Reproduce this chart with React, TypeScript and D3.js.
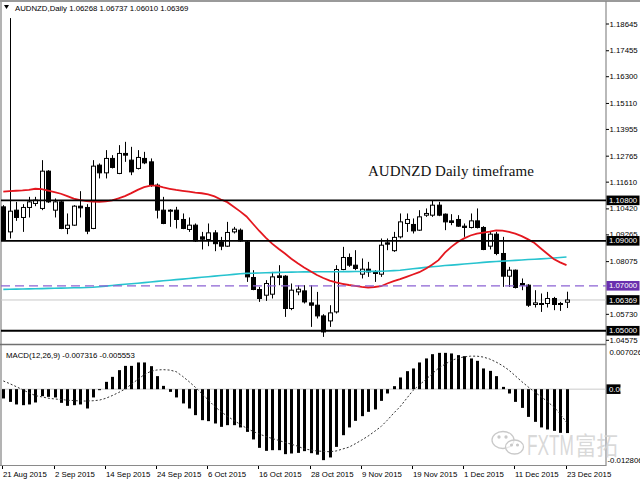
import React from "react";
import * as d3 from "d3";

// ---- Data (AUDNZD Daily, 21 Aug 2015 – 23 Dec 2015) ----
const opens = [
  1.10511, 1.09398, 1.10364, 1.10039, 1.10484, 1.10662, 1.1044, 1.12099, 1.10364, 1.10733,
  1.0955, 1.09696, 1.10542, 1.10484, 1.0955, 1.12366, 1.12024, 1.12665, 1.11997, 1.12887,
  1.12589, 1.1222, 1.12665, 1.12513, 1.11476, 1.10364, 1.10364, 1.10364, 1.0995, 1.09505,
  1.09696, 1.09176, 1.0906, 1.09354, 1.08953, 1.08762, 1.09398, 1.09474, 1.08953, 1.07369,
  1.06835, 1.06581, 1.06626, 1.0744, 1.07427, 1.0599, 1.06728, 1.06773, 1.06239, 1.06136,
  1.0566, 1.05438, 1.05838, 1.07725, 1.08259, 1.07916, 1.07516, 1.07738, 1.07618, 1.07516,
  1.08909, 1.08562, 1.09176, 1.09772, 1.09728, 1.09474, 1.10141, 1.10141, 1.10586, 1.10186,
  1.09888, 1.0995, 1.09652, 1.09594, 1.09888, 1.09594, 1.08762, 1.09296, 1.08437, 1.07427,
  1.07694, 1.07102, 1.07026, 1.06168, 1.06212, 1.06212, 1.06435, 1.06212, 1.06268,
];
const highs = [
  1.10586, 1.18908, 1.10733, 1.10631, 1.10956, 1.10956, 1.12589, 1.12144, 1.10885, 1.10778,
  1.10217, 1.10586, 1.11209, 1.10631, 1.12589, 1.12442, 1.13034, 1.12811, 1.13256, 1.13403,
  1.13181, 1.13034, 1.12958, 1.12665, 1.11552, 1.10956, 1.10408, 1.10511, 1.10217, 1.10039,
  1.09772, 1.09398, 1.09772, 1.09474, 1.09176, 1.09843, 1.09621, 1.0955, 1.08998, 1.07694,
  1.06951, 1.07249, 1.07618, 1.07916, 1.07471, 1.07102, 1.07026, 1.07026, 1.07026, 1.06728,
  1.05736, 1.06136, 1.07916, 1.08731, 1.08437, 1.08584, 1.08215, 1.08063, 1.07694, 1.09105,
  1.09105, 1.09398, 1.10217, 1.10217, 1.09995, 1.10364, 1.1044, 1.10809, 1.10733, 1.10217,
  1.10186, 1.10141, 1.09772, 1.10217, 1.1044, 1.09652, 1.09398, 1.09398, 1.09176, 1.07841,
  1.07725, 1.07325, 1.07071, 1.06804, 1.06657, 1.06728, 1.06506, 1.06283, 1.06737,
];
const lows = [
  1.08998, 1.09105, 1.09888, 1.09398, 1.10039, 1.10542, 1.10364, 1.10689, 1.10039, 1.09518,
  1.09296, 1.09665, 1.10039, 1.09296, 1.09518, 1.11775, 1.11775, 1.1222, 1.11966, 1.12513,
  1.11921, 1.12175, 1.12411, 1.11401, 1.09995, 1.09741, 1.09621, 1.0955, 1.09518, 1.09398,
  1.08953, 1.08615, 1.08762, 1.08539, 1.08584, 1.08731, 1.09327, 1.08953, 1.07173, 1.06804,
  1.06283, 1.06327, 1.06435, 1.07026, 1.05616, 1.05914, 1.06581, 1.06212, 1.05171, 1.05545,
  1.04726, 1.05171, 1.05767, 1.07694, 1.07841, 1.07694, 1.07325, 1.07396, 1.07173, 1.07396,
  1.08584, 1.08508, 1.09105, 1.09398, 1.09327, 1.09443, 1.10066, 1.10066, 1.10097, 1.09474,
  1.09696, 1.09621, 1.09176, 1.0955, 1.0955, 1.08584, 1.08615, 1.08361, 1.06951, 1.06951,
  1.0688, 1.06804, 1.06061, 1.06034, 1.05838, 1.06034, 1.05914, 1.05883, 1.0601,
];
const closes = [
  1.09029, 1.10319, 1.10039, 1.10484, 1.10733, 1.10809, 1.12099, 1.10733, 1.10733, 1.0955,
  1.09696, 1.10542, 1.10466, 1.09429, 1.12322, 1.12024, 1.12665, 1.12264, 1.12887, 1.12811,
  1.12068, 1.12709, 1.12469, 1.11476, 1.10364, 1.09772, 1.10319, 1.0995, 1.0955, 1.09696,
  1.08998, 1.09073, 1.09354, 1.08873, 1.08762, 1.09372, 1.09518, 1.08998, 1.07396, 1.06835,
  1.06435, 1.07102, 1.07396, 1.07369, 1.0599, 1.06804, 1.06848, 1.06283, 1.06136, 1.0566,
  1.04948, 1.05794, 1.07725, 1.08259, 1.07916, 1.0777, 1.07738, 1.07618, 1.07547, 1.08806,
  1.08851, 1.09153, 1.09843, 1.0995, 1.09443, 1.10066, 1.10217, 1.10586, 1.10141, 1.09843,
  1.09817, 1.09652, 1.09594, 1.09888, 1.09594, 1.08615, 1.09296, 1.08437, 1.07427, 1.07694,
  1.06924, 1.07026, 1.06136, 1.06239, 1.06168, 1.06435, 1.06168, 1.06168, 1.06369,
];
const maFast = [
  1.11187, 1.11209, 1.11227, 1.11241, 1.11267, 1.11316, 1.11298, 1.11232, 1.11165, 1.11094,
  1.10987, 1.10876, 1.10809, 1.10764, 1.10747, 1.10733, 1.10756, 1.108, 1.10885, 1.10987,
  1.1112, 1.11267, 1.11387, 1.11454, 1.11454, 1.11374, 1.11316, 1.11263, 1.11223, 1.11187,
  1.11147, 1.11116, 1.11063, 1.10978, 1.1084, 1.1072, 1.1052, 1.10311, 1.10084, 1.09759,
  1.09438, 1.09145, 1.08873, 1.08646, 1.08433, 1.08206, 1.08005, 1.07814, 1.07649, 1.0748,
  1.07347, 1.07231, 1.07147, 1.07089, 1.07035, 1.06995, 1.06955, 1.06924, 1.06946, 1.06981,
  1.07102, 1.07204, 1.07293, 1.074, 1.07502, 1.07605, 1.07761, 1.07934, 1.08139, 1.08473,
  1.08731, 1.08949, 1.09109, 1.09238, 1.09318, 1.09367, 1.09412, 1.09469, 1.09456, 1.09403,
  1.09318, 1.09211, 1.09065, 1.089, 1.0866, 1.08424, 1.08192, 1.08041, 1.07916,
];
const maSlow = [
  1.0684, 1.06844, 1.06853, 1.06857, 1.06862, 1.06871, 1.06875, 1.06884, 1.06888, 1.06897,
  1.06902, 1.06911, 1.06915, 1.06924, 1.06937, 1.0696, 1.06986, 1.07013, 1.0704, 1.07066,
  1.07093, 1.07115, 1.07142, 1.07169, 1.07195, 1.07222, 1.07249, 1.07276, 1.07298, 1.07325,
  1.07351, 1.07378, 1.07405, 1.07431, 1.07458, 1.0748, 1.07507, 1.07534, 1.07552, 1.0756,
  1.07569, 1.07578, 1.07587, 1.07596, 1.076, 1.07609, 1.07614, 1.07618, 1.07618, 1.07623,
  1.07623, 1.07627, 1.07627, 1.07632, 1.07632, 1.07636, 1.07636, 1.07641, 1.07641, 1.07645,
  1.07658, 1.07676, 1.07694, 1.07725, 1.07756, 1.07787, 1.07819, 1.0785, 1.07872, 1.07899,
  1.07921, 1.07943, 1.0797, 1.07992, 1.08014, 1.08041, 1.08063, 1.08081, 1.08099, 1.08112,
  1.0813, 1.08148, 1.08166, 1.08179, 1.08197, 1.08215, 1.08237, 1.08259, 1.08281,
];
const macdMain = [
  -0.00155, -0.00212, -0.00255, -0.00267, -0.00255, -0.00222, -0.00117, -0.00128, -0.00138, -0.00228,
  -0.00278, -0.00267, -0.00255, -0.00322, -0.00138, -0.00017, 0.00122, 0.00205, 0.00317, 0.00388,
  0.00388, 0.00445, 0.00445, 0.00383, 0.00217, 0.00055, -0.00045, -0.00138, -0.00238, -0.00322,
  -0.00433, -0.00517, -0.00533, -0.00572, -0.00628, -0.006, -0.006, -0.00638, -0.00712, -0.00838,
  -0.00978, -0.01028, -0.01017, -0.01017, -0.01083, -0.01072, -0.01062, -0.01033, -0.01067, -0.01092,
  -0.01183, -0.01138, -0.00962, -0.00767, -0.00638, -0.00528, -0.0045, -0.00378, -0.00338, -0.00195,
  -0.00072, 0.0005, 0.00195, 0.003, 0.00345, 0.00445, 0.00512, 0.00583, 0.00605, 0.00605,
  0.00595, 0.00567, 0.0055, 0.00512, 0.00472, 0.00345, 0.00305, 0.00217, 0.00038, -0.00072,
  -0.00212, -0.00312, -0.00462, -0.00545, -0.00638, -0.00672, -0.00695, -0.00728, -0.007316,
];
const macdSignal = [
  0.00137, 0.00092, 0.00043, -0.00008, -0.0006, -0.00107, -0.00128, -0.0015, -0.00163, -0.00173,
  -0.00183, -0.0019, -0.00197, -0.00198, -0.00193, -0.00183, -0.00153, -0.00108, -0.00057, 0.0,
  0.0008, 0.00162, 0.0024, 0.00295, 0.0032, 0.00325, 0.00318, 0.00292, 0.00215, 0.00128,
  0.00032, -0.00072, -0.00177, -0.00285, -0.00375, -0.0045, -0.0052, -0.00585, -0.0065, -0.00703,
  -0.00747, -0.00788, -0.00822, -0.00853, -0.00887, -0.00918, -0.0095, -0.00995, -0.01013, -0.0103,
  -0.01037, -0.01043, -0.0103, -0.00998, -0.00967, -0.0091, -0.00848, -0.00782, -0.00705, -0.00625,
  -0.00518, -0.004, -0.00292, -0.00158, -0.00023, 0.0007, 0.0016, 0.00255, 0.0035, 0.00415,
  0.00477, 0.00515, 0.00538, 0.0055, 0.0055, 0.00535, 0.00502, 0.00452, 0.00392, 0.00317,
  0.00222, 0.00127, 0.00038, -0.00047, -0.00123, -0.00205, -0.00298, -0.00407, -0.005553,
];
const dateLabels = [
  "21 Aug 2015", "2 Sep 2015", "14 Sep 2015", "24 Sep 2015", "6 Oct 2015", "16 Oct 2015",
  "28 Oct 2015", "9 Nov 2015", "19 Nov 2015", "1 Dec 2015", "11 Dec 2015", "23 Dec 2015",
];
const dateIndices = [0, 8, 16, 24, 32, 40, 48, 56, 64, 72, 80, 88];
const priceTicks = [
  1.18645, 1.17455, 1.163, 1.1511, 1.13955, 1.12765, 1.1161, 1.1042, 1.09265, 1.08075,
  1.0573, 1.04575,
];
const solidLevels = [1.108, 1.09, 1.05];
const dashedLevel = 1.07;
const bidPrice = 1.06369;
const priceMin = 1.04575;
const priceMax = 1.18645;
const macdMax = 0.007026;
const macdMin = -0.012806;
const titleText = "AUDNZD,Daily  1.06268 1.06737 1.06010 1.06369";
const macdTitle = "MACD(12,26,9) -0.007316 -0.005553";
const noteText = "AUDNZD Daily timeframe";

const FONT = "'Liberation Sans', Arial, sans-serif";

export default function App() {
  const W = 640;
  const H = 480;
  const axisX = 606;
  const x = d3.scaleLinear().domain([0, opens.length - 1]).range([3.3, 566.5]);
  const y = d3.scaleLinear().domain([priceMin, priceMax]).range([340.3, 24]);
  const ym = d3.scaleLinear().domain([macdMin, macdMax]).range([466, 347]);

  const lineP = d3
    .line<number>()
    .x((_, i) => x(i))
    .y((d) => y(d));
  const lineM = d3
    .line<number>()
    .x((_, i) => x(i))
    .y((d) => ym(d));

  const fmt = (v: number) => v.toFixed(5);
  const labelBox = (v: number, fill: string, key: string, yy: number) => (
    <g key={key}>
      <rect x={axisX + 0.5} y={yy - 4.8} width={33} height={9.6} fill={fill} />
      <text x={axisX + 3} y={yy} dy="0.33em" fill="#fff" fontSize={7.8} fontFamily={FONT}>
        {fmt(v)}
      </text>
    </g>
  );

  return (
    <svg
      width={W}
      height={H}
      style={{ position: "absolute", left: 0, top: 0, background: "#fff" }}
      xmlns="http://www.w3.org/2000/svg"
    >
      <rect x={0} y={0} width={W} height={H} fill="#fff" />
      {/* frames */}
      <line x1={0} x2={W} y1={1} y2={1} stroke="#9a9a9a" strokeWidth={2} />
      <line x1={1} x2={1} y1={1} y2={466} stroke="#9a9a9a" strokeWidth={1.5} />
      <line x1={axisX} x2={axisX} y1={1} y2={466} stroke="#8a8a8a" strokeWidth={1.2} />
      <line x1={0} x2={axisX} y1={344.5} y2={344.5} stroke="#707070" strokeWidth={1.5} />
      <line x1={0} x2={axisX} y1={465.5} y2={465.5} stroke="#8a8a8a" strokeWidth={1} />

      {/* title */}
      <path d="M4,5 L9,5 L6.5,9 Z" fill="#000" />
      <text x={15} y={10.5} fontSize={7.8} fontFamily={FONT} fill="#000">
        {titleText}
      </text>

      {/* bid line */}
      <line x1={1} x2={axisX} y1={y(bidPrice)} y2={y(bidPrice)} stroke="#c8c8c8" strokeWidth={1} />

      {/* candles */}
      {opens.map((o, i) => {
        const c = closes[i];
        const bull = c >= o;
        const top = y(Math.max(o, c));
        const bot = y(Math.min(o, c));
        const cx = Math.round(x(i)) + 0.5;
        return (
          <g key={"c" + i}>
            <line x1={cx} x2={cx} y1={y(highs[i])} y2={y(lows[i])} stroke="#000" strokeWidth={1} />
            <rect
              x={cx - 2}
              y={top}
              width={4}
              height={Math.max(1, bot - top)}
              fill={bull ? "#fff" : "#000"}
              stroke="#000"
              strokeWidth={1}
            />
          </g>
        );
      })}

      {/* moving averages */}
      <path d={lineP(maSlow) || ""} fill="none" stroke="#27c3cf" strokeWidth={1.6} />
      <path d={lineP(maFast) || ""} fill="none" stroke="#e4171f" strokeWidth={1.8} />

      {/* horizontal levels */}
      {solidLevels.map((v) => (
        <line key={"l" + v} x1={1} x2={axisX} y1={y(v)} y2={y(v)} stroke="#000" strokeWidth={1.8} />
      ))}
      <line
        x1={1}
        x2={axisX}
        y1={y(dashedLevel)}
        y2={y(dashedLevel)}
        stroke="#8c63d4"
        strokeWidth={1.2}
        strokeDasharray="9,5"
      />

      {/* note */}
      <text x={368} y={176} fontSize={15} fontFamily="'Liberation Serif', 'Times New Roman', serif" fill="#111">
        {noteText}
      </text>

      {/* price axis */}
      {priceTicks.map((v) => (
        <g key={"t" + v}>
          <line x1={axisX} x2={axisX + 3} y1={y(v)} y2={y(v)} stroke="#000" />
          <text x={axisX + 3.5} y={y(v)} dy="0.33em" fontSize={7.8} fontFamily={FONT} fill="#000">
            {fmt(v)}
          </text>
        </g>
      ))}
      {solidLevels.map((v) => labelBox(v, "#000", "b" + v, y(v)))}
      {labelBox(dashedLevel, "#6a2fae", "bd", y(dashedLevel))}
      {labelBox(bidPrice, "#000", "bb", y(bidPrice))}

      {/* MACD */}
      <text x={6} y={357.5} fontSize={7.8} fontFamily={FONT} fill="#000">
        {macdTitle}
      </text>
      <line x1={1} x2={axisX} y1={ym(0)} y2={ym(0)} stroke="#bdbdbd" strokeWidth={0.8} />
      {macdMain.map((v, i) => {
        const y0 = ym(0);
        const yv = ym(v);
        return (
          <rect
            key={"m" + i}
            x={Math.round(x(i)) - 1}
            y={Math.min(y0, yv)}
            width={3}
            height={Math.max(0.8, Math.abs(yv - y0))}
            fill="#000"
          />
        );
      })}
      <path d={lineM(macdSignal) || ""} fill="none" stroke="#333" strokeWidth={1} strokeDasharray="2,2" />
      <text x={axisX + 3.5} y={ym(macdMax) + 5} dy="0.33em" fontSize={7.8} fontFamily={FONT} fill="#000">
        {macdMax.toFixed(6)}
      </text>
      <rect x={axisX + 0.5} y={ym(0) - 4.8} width={14} height={9.6} fill="#000" />
      <text x={axisX + 3} y={ym(0)} dy="0.33em" fill="#fff" fontSize={7.8} fontFamily={FONT}>
        0.00
      </text>
      <text x={axisX + 1.5} y={ym(macdMin) - 5.5} dy="0.33em" fontSize={7.8} fontFamily={FONT} fill="#000">
        {macdMin.toFixed(6)}
      </text>

      {/* watermark */}
      <g stroke="#c4c4c4" strokeWidth={1.3} fill="none" opacity={0.9}>
        <ellipse cx={503} cy={440} rx={11} ry={8.5} fill="#fff" fillOpacity={0.4} />
        <ellipse cx={514.5} cy={447} rx={9} ry={7} fill="#fff" fillOpacity={0.6} />
        <circle cx={499} cy={437} r={1} fill="#c4c4c4" />
        <circle cx={506} cy={437} r={1} fill="#c4c4c4" />
        <circle cx={511.5} cy={445} r={0.9} fill="#c4c4c4" />
        <circle cx={517.5} cy={445} r={0.9} fill="#c4c4c4" />
      </g>
      <text
        x={527}
        y={455}
        fontSize={29}
        fontFamily={FONT}
        fill="#d2d2d2"
        fillOpacity={0.85}
        textLength={47}
        lengthAdjust="spacingAndGlyphs"
      >
        FXTM
      </text>
      <text
        x={575}
        y={455}
        fontSize={25}
        fontFamily="'Noto Sans CJK SC', sans-serif"
        fill="#d2d2d2"
        fillOpacity={0.85}
        textLength={43}
        lengthAdjust="spacingAndGlyphs"
      >
        富拓
      </text>

      {/* date axis */}
      {dateIndices.map((idx, k) => {
        const tx = Math.round(x(idx)) - 1;
        return (
          <g key={"d" + idx}>
            <line x1={tx + 0.5} x2={tx + 0.5} y1={466} y2={469} stroke="#000" />
            <text x={tx + 1} y={476.5} fontSize={7.8} fontFamily={FONT} fill="#000">
              {dateLabels[k]}
            </text>
          </g>
        );
      })}
    </svg>
  );
}
